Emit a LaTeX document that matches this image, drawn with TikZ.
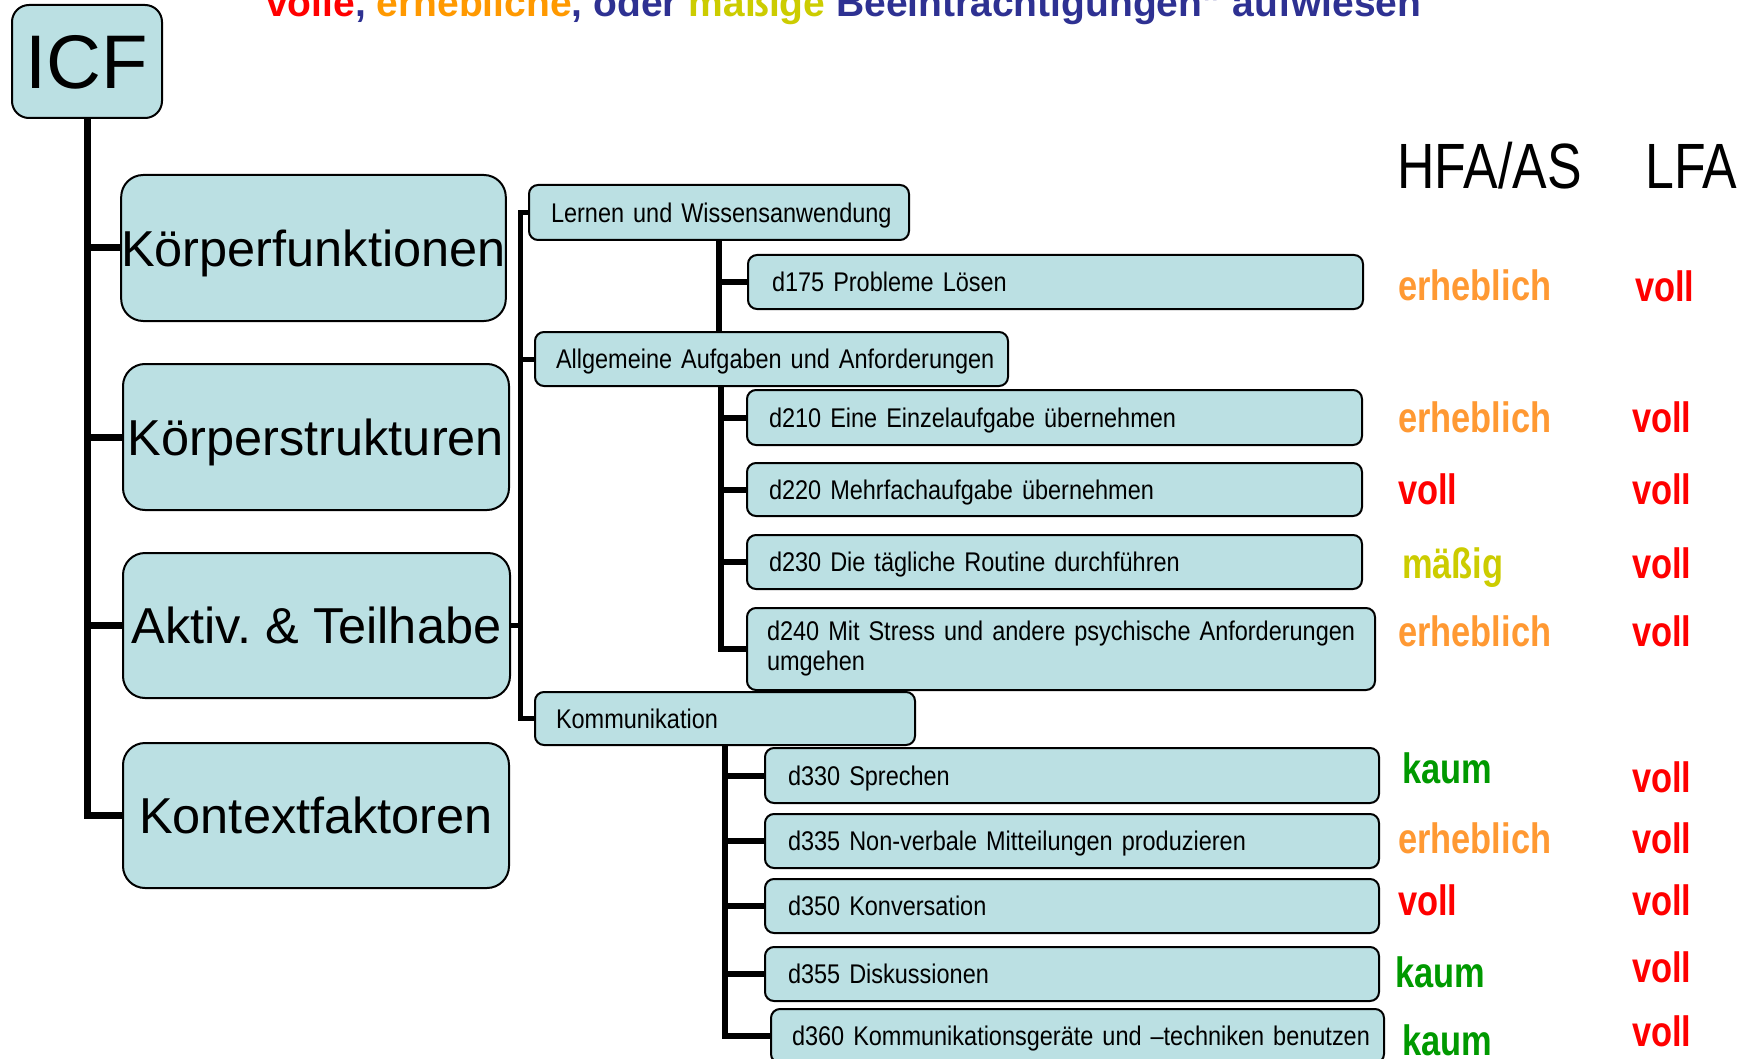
\documentclass[tikz,border=0pt]{standalone}
\usepackage{fontspec}
\setmainfont{Liberation Sans}
\newfontfamily\boxfont[FakeStretch=0.87, WordSpace=0.75]{Liberation Sans}
\newfontfamily\ratefont[FakeStretch=0.81]{Liberation Sans}
\definecolor{boxfill}{HTML}{BBE0E3}
\definecolor{cOrange}{HTML}{FF9933}
\definecolor{cRed}{HTML}{FF0000}
\definecolor{cYellow}{HTML}{CCCC00}
\definecolor{cGreen}{HTML}{009900}
\definecolor{tBlue}{HTML}{2E3192}
\definecolor{tOrange}{HTML}{FF9900}
\frenchspacing
\begin{document}
\begin{tikzpicture}[x=1pt,y=-1pt,
  bigbox/.style={draw, fill=boxfill, line width=2pt, rounded corners=22pt, inner sep=0pt,
    text height=36pt, text depth=0pt, font=\fontsize{50.5}{56}\selectfont},
  sbox/.style={draw, fill=boxfill, line width=2pt, rounded corners=9pt, inner xsep=0pt, inner ysep=0pt,
    align=left, anchor=west, font=\boxfont\fontsize{27}{30}\selectfont},
  onel/.style={text height=19.5pt, text depth=0pt},
  hdr/.style={anchor=base west, inner sep=0pt, font=\ratefont\fontsize{64}{64}\selectfont},
  rate/.style={anchor=base west, inner sep=0pt, font=\ratefont\bfseries\fontsize{42.5}{42.5}\selectfont},
  mainline/.style={line width=7pt},
  midline/.style={line width=5pt},
  subline/.style={line width=6pt}]
\useasboundingbox (0,0) rectangle (1752,1059);
\clip (0,0) rectangle (1752,1059);

% title (cut off at the top)
\node[anchor=base west, inner sep=0pt, font=\bfseries\fontsize{39}{39}\selectfont] (title) at (266,17)
  {\textcolor{cRed}{volle}\textcolor{tBlue}{,}\ \textcolor{tOrange}{erhebliche}\textcolor{tBlue}{,\ oder}\ \textcolor{cYellow}{mäßige}\ \textcolor{tBlue}{Beeinträchtigungen"\ aufwiesen}};

% ICF and main categories
\node[draw, fill=boxfill, line width=2pt, rounded corners=17pt, inner sep=0pt,
  minimum width=150pt, minimum height=113pt, text height=55pt, text depth=0pt,
  font=\fontsize{76}{80}\selectfont] (icf) at (87,61.5) {ICF};
\node[bigbox, minimum width=381pt, minimum height=146pt] (kf) at (313.5,248) {Körperfunktionen};
\node[bigbox, minimum width=386pt, minimum height=146pt] (ks) at (316,437) {Körperstrukturen};
\node[bigbox, minimum width=387pt, minimum height=145pt] (at) at (316.5,625.5) {Aktiv. \& Teilhabe};
\node[bigbox, minimum width=386pt, minimum height=145pt] (kx) at (316,815.5) {Kontextfaktoren};

% second level
\node[sbox, onel, minimum width=380pt, minimum height=55pt, text width=336pt] (lern) at (528,212.5) {\mbox{Lernen und Wissensanwendung}};
\node[sbox, onel, minimum width=473pt, minimum height=54pt, text width=431pt] (allg) at (534,359) {\mbox{Allgemeine Aufgaben und Anforderungen}};
\node[sbox, onel, minimum width=380pt, minimum height=53pt, text width=338pt] (komm) at (534,718.5) {\mbox{Kommunikation}};

% third level
\node[sbox, onel, minimum width=615pt, minimum height=54pt, text width=567pt] (d175) at (747,282) {\mbox{d175 Probleme Lösen}};
\node[sbox, onel, minimum width=615pt, minimum height=55pt, text width=571pt] (d210) at (746,417.5) {\mbox{d210 Eine Einzelaufgabe übernehmen}};
\node[sbox, onel, minimum width=615pt, minimum height=53pt, text width=571pt] (d220) at (746,489.5) {\mbox{d220 Mehrfachaufgabe übernehmen}};
\node[sbox, onel, minimum width=615pt, minimum height=54pt, text width=571pt] (d230) at (746,562) {\mbox{d230 Die tägliche Routine durchführen}};
\node[sbox, minimum width=628pt, minimum height=82pt, text width=588pt] (d240) at (746,649)
  {\mbox{d240 Mit Stress und andere psychische Anforderungen}\\umgehen};
\node[sbox, onel, minimum width=614pt, minimum height=55pt, text width=568pt] (d330) at (764,775.5) {\mbox{d330 Sprechen}};
\node[sbox, onel, minimum width=614pt, minimum height=54pt, text width=568pt] (d335) at (764,841) {\mbox{d335 Non-verbale Mitteilungen produzieren}};
\node[sbox, onel, minimum width=614pt, minimum height=54pt, text width=568pt] (d350) at (764,906) {\mbox{d350 Konversation}};
\node[sbox, onel, minimum width=614pt, minimum height=54pt, text width=568pt] (d355) at (764,974) {\mbox{d355 Diskussionen}};
\node[sbox, onel, minimum width=613pt, minimum height=54pt, text width=571pt] (d360) at (770,1036) {\mbox{d360 Kommunikationsgeräte und –techniken benutzen}};

% connectors: main trunk
\draw[mainline] (icf.south) |- (kx.west);
\draw[mainline] (icf.south |- kf.west) -- (kf.west);
\draw[mainline] (icf.south |- ks.west) -- (ks.west);
\draw[mainline] (icf.south |- at.west) -- (at.west);

% middle trunk
\coordinate (midx) at (520,0);
\draw[midline] (lern.west) -| (midx |- komm.west) -- (komm.west);
\draw[midline] (allg.west) -- (midx |- allg.west);
\draw[midline] (at.east) -- (midx |- at.east);

% Lernen subtree
\draw[subline] (lern.south) -- (lern.south |- allg.north);
\draw[subline] (lern.south |- d175.west) -- (d175.west);

% Allgemeine subtree
\coordinate (allgT) at (721,386);
\draw[subline] (allgT) |- (d240.west);
\draw[subline] (allgT |- d210.west) -- (d210.west);
\draw[subline] (allgT |- d220.west) -- (d220.west);
\draw[subline] (allgT |- d230.west) -- (d230.west);

% Kommunikation subtree
\draw[subline] (komm.south) |- (d360.west);
\draw[subline] (komm.south |- d330.west) -- (d330.west);
\draw[subline] (komm.south |- d335.west) -- (d335.west);
\draw[subline] (komm.south |- d350.west) -- (d350.west);
\draw[subline] (komm.south |- d355.west) -- (d355.west);

% headers
\node[hdr] (hfa) at (1397,189) {HFA/AS};
\node[hdr] (lfa) at (1645,189) {LFA};

% HFA/AS ratings
\node[rate, text=cOrange] (h175) at (1398,300) {erheblich};
\node[rate, text=cOrange] (h210) at (1398,432) {erheblich};
\node[rate, text=cRed] (h220) at (1398,504) {voll};
\node[rate, text=cYellow] (h230) at (1402,578) {mäßig};
\node[rate, text=cOrange] (h240) at (1398,646) {erheblich};
\node[rate, text=cGreen] (h330) at (1402,783) {kaum};
\node[rate, text=cOrange] (h335) at (1398,853) {erheblich};
\node[rate, text=cRed] (h350) at (1398,915) {voll};
\node[rate, text=cGreen] (h355) at (1395,987) {kaum};
\node[rate, text=cGreen] (h360) at (1402,1055) {kaum};

% LFA ratings
\node[rate, text=cRed] (l175) at (1635,301) {voll};
\node[rate, text=cRed] (l210) at (1632,432) {voll};
\node[rate, text=cRed] (l220) at (1632,504) {voll};
\node[rate, text=cRed] (l230) at (1632,578) {voll};
\node[rate, text=cRed] (l240) at (1632,646) {voll};
\node[rate, text=cRed] (l330) at (1632,792) {voll};
\node[rate, text=cRed] (l335) at (1632,853) {voll};
\node[rate, text=cRed] (l350) at (1632,915) {voll};
\node[rate, text=cRed] (l355) at (1632,982) {voll};
\node[rate, text=cRed] (l360) at (1632,1046) {voll};
\end{tikzpicture}
\end{document}
